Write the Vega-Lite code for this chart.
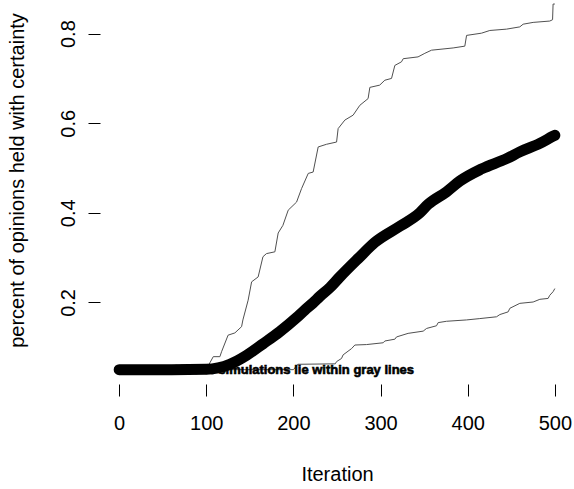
{
  "$schema": "https://vega.github.io/schema/vega-lite/v6.json",
  "width": 474,
  "height": 384,
  "autosize": {"type": "none"},
  "padding": {"left": 100, "top": 0, "right": 0, "bottom": 105},
  "background": "white",
  "config": {
    "view": {"stroke": null},
    "font": "Liberation Sans",
    "axis": {"labelFont": "Liberation Sans", "titleFont": "Liberation Sans"}
  },
  "datasets": {
    "bands": [
      {"bound": "upper", "iter": 0, "val": 0.05},
      {"bound": "upper", "iter": 100, "val": 0.05},
      {"bound": "upper", "iter": 104, "val": 0.065},
      {"bound": "upper", "iter": 108, "val": 0.079},
      {"bound": "upper", "iter": 115.6, "val": 0.079},
      {"bound": "upper", "iter": 117.5, "val": 0.09},
      {"bound": "upper", "iter": 125, "val": 0.127},
      {"bound": "upper", "iter": 132.8, "val": 0.132},
      {"bound": "upper", "iter": 140.5, "val": 0.146},
      {"bound": "upper", "iter": 142, "val": 0.161},
      {"bound": "upper", "iter": 148, "val": 0.205},
      {"bound": "upper", "iter": 152, "val": 0.246},
      {"bound": "upper", "iter": 159.5, "val": 0.257},
      {"bound": "upper", "iter": 165, "val": 0.302},
      {"bound": "upper", "iter": 169, "val": 0.309},
      {"bound": "upper", "iter": 178.7, "val": 0.313},
      {"bound": "upper", "iter": 182.5, "val": 0.355},
      {"bound": "upper", "iter": 187.9, "val": 0.372},
      {"bound": "upper", "iter": 194, "val": 0.406},
      {"bound": "upper", "iter": 203.6, "val": 0.424},
      {"bound": "upper", "iter": 209.3, "val": 0.454},
      {"bound": "upper", "iter": 217, "val": 0.488},
      {"bound": "upper", "iter": 222.6, "val": 0.491},
      {"bound": "upper", "iter": 228.4, "val": 0.547},
      {"bound": "upper", "iter": 238, "val": 0.553},
      {"bound": "upper", "iter": 249.5, "val": 0.558},
      {"bound": "upper", "iter": 251.3, "val": 0.588},
      {"bound": "upper", "iter": 259, "val": 0.607},
      {"bound": "upper", "iter": 268.5, "val": 0.618},
      {"bound": "upper", "iter": 276.2, "val": 0.64},
      {"bound": "upper", "iter": 285.7, "val": 0.655},
      {"bound": "upper", "iter": 287.7, "val": 0.68},
      {"bound": "upper", "iter": 299, "val": 0.685},
      {"bound": "upper", "iter": 304.9, "val": 0.696},
      {"bound": "upper", "iter": 312.6, "val": 0.7},
      {"bound": "upper", "iter": 316.4, "val": 0.729},
      {"bound": "upper", "iter": 324, "val": 0.737},
      {"bound": "upper", "iter": 326, "val": 0.744},
      {"bound": "upper", "iter": 343, "val": 0.748},
      {"bound": "upper", "iter": 350.8, "val": 0.756},
      {"bound": "upper", "iter": 358.5, "val": 0.763},
      {"bound": "upper", "iter": 383.3, "val": 0.768},
      {"bound": "upper", "iter": 396.7, "val": 0.772},
      {"bound": "upper", "iter": 398.7, "val": 0.796},
      {"bound": "upper", "iter": 415.9, "val": 0.801},
      {"bound": "upper", "iter": 425.4, "val": 0.807},
      {"bound": "upper", "iter": 444.6, "val": 0.81},
      {"bound": "upper", "iter": 459.8, "val": 0.815},
      {"bound": "upper", "iter": 463.6, "val": 0.821},
      {"bound": "upper", "iter": 475.1, "val": 0.825},
      {"bound": "upper", "iter": 494.2, "val": 0.828},
      {"bound": "upper", "iter": 497.4, "val": 0.831},
      {"bound": "upper", "iter": 498, "val": 0.866},
      {"bound": "upper", "iter": 500, "val": 0.866},
      {"bound": "lower", "iter": 0, "val": 0.05},
      {"bound": "lower", "iter": 200, "val": 0.05},
      {"bound": "lower", "iter": 205, "val": 0.062},
      {"bound": "lower", "iter": 248, "val": 0.063},
      {"bound": "lower", "iter": 249.5, "val": 0.068},
      {"bound": "lower", "iter": 255.2, "val": 0.075},
      {"bound": "lower", "iter": 257, "val": 0.083},
      {"bound": "lower", "iter": 266.7, "val": 0.097},
      {"bound": "lower", "iter": 270.5, "val": 0.105},
      {"bound": "lower", "iter": 283.9, "val": 0.106},
      {"bound": "lower", "iter": 303, "val": 0.11},
      {"bound": "lower", "iter": 304.9, "val": 0.114},
      {"bound": "lower", "iter": 316.4, "val": 0.118},
      {"bound": "lower", "iter": 318.3, "val": 0.123},
      {"bound": "lower", "iter": 331.6, "val": 0.131},
      {"bound": "lower", "iter": 348.9, "val": 0.136},
      {"bound": "lower", "iter": 352.8, "val": 0.142},
      {"bound": "lower", "iter": 364.2, "val": 0.148},
      {"bound": "lower", "iter": 366.1, "val": 0.155},
      {"bound": "lower", "iter": 375.7, "val": 0.158},
      {"bound": "lower", "iter": 398.7, "val": 0.161},
      {"bound": "lower", "iter": 413.9, "val": 0.164},
      {"bound": "lower", "iter": 433.1, "val": 0.168},
      {"bound": "lower", "iter": 436.9, "val": 0.173},
      {"bound": "lower", "iter": 446.4, "val": 0.179},
      {"bound": "lower", "iter": 448.4, "val": 0.187},
      {"bound": "lower", "iter": 459.8, "val": 0.198},
      {"bound": "lower", "iter": 475.1, "val": 0.201},
      {"bound": "lower", "iter": 482.8, "val": 0.207},
      {"bound": "lower", "iter": 492.3, "val": 0.209},
      {"bound": "lower", "iter": 494.2, "val": 0.216},
      {"bound": "lower", "iter": 498, "val": 0.224},
      {"bound": "lower", "iter": 500, "val": 0.231}
    ],
    "mean": [
      {"iter": 0, "val": 0.05},
      {"iter": 60, "val": 0.05},
      {"iter": 100, "val": 0.051},
      {"iter": 127, "val": 0.062},
      {"iter": 146.2, "val": 0.082},
      {"iter": 165.3, "val": 0.108},
      {"iter": 184.4, "val": 0.135},
      {"iter": 203.6, "val": 0.166},
      {"iter": 213, "val": 0.183},
      {"iter": 222.6, "val": 0.199},
      {"iter": 230, "val": 0.213},
      {"iter": 241.8, "val": 0.233},
      {"iter": 253.3, "val": 0.257},
      {"iter": 274.3, "val": 0.298},
      {"iter": 293.4, "val": 0.334},
      {"iter": 322.1, "val": 0.37},
      {"iter": 345.1, "val": 0.4},
      {"iter": 354.6, "val": 0.419},
      {"iter": 375.7, "val": 0.447},
      {"iter": 391, "val": 0.471},
      {"iter": 415.9, "val": 0.498},
      {"iter": 444.6, "val": 0.521},
      {"iter": 459.8, "val": 0.536},
      {"iter": 482.8, "val": 0.555},
      {"iter": 498, "val": 0.571},
      {"iter": 500, "val": 0.573}
    ],
    "note": [
      {"iter": 200, "val": 0.05, "label": "95% of simulations lie within gray lines"}
    ]
  },
  "encoding": {
    "x": {
      "field": "iter", "type": "quantitative",
      "scale": {"domain": [-22, 522], "nice": false, "zero": false},
      "axis": {
        "values": [0, 100, 200, 300, 400, 500],
        "domain": false, "grid": false,
        "tickSize": 12, "tickColor": "black", "tickWidth": 1,
        "labelFontSize": 20, "labelColor": "black", "labelFont": "Liberation Sans",
        "labelBaseline": "alphabetic", "labelPadding": 33, "labelFlush": false,
        "title": "Iteration", "titleFontSize": 20, "titleFontWeight": "normal",
        "titleColor": "black", "titleBaseline": "alphabetic",
        "titleX": 237, "titleY": 96, "titleAnchor": "middle"
      }
    },
    "y": {
      "field": "val", "type": "quantitative",
      "scale": {"domain": [0.018, 0.875], "nice": false, "zero": false},
      "axis": {
        "values": [0.2, 0.4, 0.6, 0.8],
        "format": ".1f",
        "domain": false, "grid": false,
        "tickSize": 12, "tickColor": "black", "tickWidth": 1,
        "labelFontSize": 20, "labelColor": "black",
        "labelAngle": 270, "labelAlign": "center", "labelBaseline": "alphabetic",
        "labelPadding": 14, "labelFlush": false,
        "title": "percent of opinions held with certainty",
        "titleFontSize": 20, "titleFontWeight": "normal", "titleColor": "black",
        "titleAngle": 270, "titleBaseline": "alphabetic", "titleAlign": "center",
        "titleX": -77, "titleY": 180
      }
    }
  },
  "layer": [
    {
      "data": {"name": "bands"},
      "mark": {"type": "line", "color": "#505050", "strokeWidth": 1, "clip": true},
      "encoding": {"detail": {"field": "bound"}, "order": {"field": "iter", "type": "quantitative"}}
    },
    {
      "data": {"name": "mean"},
      "mark": {"type": "line", "color": "black", "strokeWidth": 11, "strokeCap": "round", "strokeJoin": "round", "interpolate": "monotone", "clip": true},
      "encoding": {"order": {"field": "iter", "type": "quantitative"}}
    },
    {
      "data": {"name": "note"},
      "mark": {"type": "text", "font": "Liberation Sans", "fontSize": 13, "fontWeight": "bold", "color": "black", "stroke": "black", "strokeWidth": 0.6, "align": "center", "baseline": "middle"},
      "encoding": {"text": {"field": "label"}}
    },
    {
      "data": {"values": [{}]},
      "mark": {"type": "rule", "color": "black", "strokeWidth": 1},
      "encoding": {
        "x": {"datum": 0, "type": "quantitative"},
        "x2": {"datum": 500},
        "y": {"datum": 0.018, "type": "quantitative"}
      }
    },
    {
      "data": {"values": [{}]},
      "mark": {"type": "rule", "color": "black", "strokeWidth": 1},
      "encoding": {
        "x": {"datum": -22, "type": "quantitative"},
        "y": {"datum": 0.2, "type": "quantitative"},
        "y2": {"datum": 0.8}
      }
    }
  ]
}
